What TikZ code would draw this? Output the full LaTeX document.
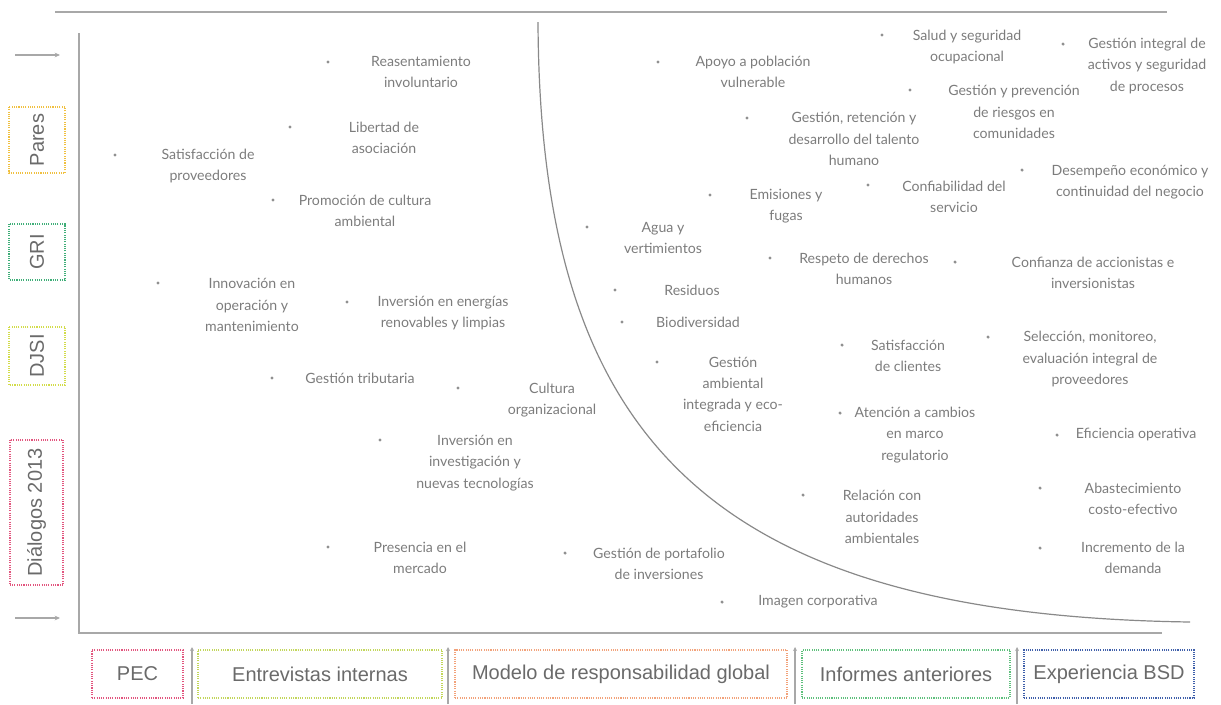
\documentclass[tikz,border=0pt]{standalone}
\usepackage{fontspec}
\setmainfont{Lato}
\newfontfamily\boxfont{Liberation Sans}
\usetikzlibrary{arrows.meta}
\definecolor{txt}{HTML}{7C7C7C}
\definecolor{boxtxt}{HTML}{6A6A6A}
\definecolor{axis}{HTML}{A8A8A8}
\definecolor{cpink}{HTML}{E2557E}
\definecolor{cyel}{HTML}{F0C040}
\definecolor{cteal}{HTML}{3FAE78}
\definecolor{clime}{HTML}{D2DC4A}
\definecolor{cyg}{HTML}{C2D65A}
\definecolor{corange}{HTML}{F2A27A}
\definecolor{cgreen}{HTML}{5EC07C}
\definecolor{cblue}{HTML}{3F5FAA}
\begin{document}
\begin{tikzpicture}[x=0.75pt,y=-0.75pt,
  dot/.style={circle,fill=txt!85,inner sep=0pt,minimum size=2.6pt},
  lbl/.style={align=center,font=\fontsize{10.6}{16}\selectfont,text=txt,inner sep=0pt},
  src/.style={draw=#1,line width=1.1pt,dash pattern=on 0.8pt off 0.9pt,
    font=\boxfont\fontsize{15}{18}\selectfont,text=boxtxt,inner sep=0pt},
  axisline/.style={draw=axis,line width=1.5pt},
  sepline/.style={draw=axis,line width=1.1pt,-{Stealth[length=3pt,width=3pt]}},
  inarrow/.style={draw=axis,line width=1.1pt,-{Stealth[length=4pt,width=3.5pt]}}]
\useasboundingbox (0,0) rectangle (1221,704);

% frame lines
\coordinate (top1) at (55,12);
\coordinate (top2) at (1167,12);
\coordinate (ax0) at (79,633);
\coordinate (axt) at (79,33);
\coordinate (axr) at (1162,633);
\draw[axisline] (top1) -- (top2);
\draw[axisline] (axt) -- (ax0) -- (axr);

% left arrows
\coordinate (la1) at (15,55);
\coordinate (la2) at (60,55);
\coordinate (lb1) at (15,618);
\coordinate (lb2) at (60,618);
\draw[inarrow] (la1) -- (la2);
\draw[inarrow] (lb1) -- (lb2);

% curve
\coordinate (c0) at (538,22);
\coordinate (c3) at (1190,622);
\draw[draw=txt!90,line width=0.9pt] (c0) .. controls (540,430) and (700,615) .. (c3);

% left source boxes
\node[src=cyel,rotate=90,minimum width=49.5pt,minimum height=42pt] (pares) at (37,140) {Pares};
\node[src=cteal,rotate=90,minimum width=42pt,minimum height=42pt] (gri) at (37,252) {GRI};
\node[src=clime,rotate=90,minimum width=43.5pt,minimum height=42pt] (djsi) at (37,356) {DJSI};
\node[src=cpink,rotate=90,minimum width=108.75pt,minimum height=40pt] (dial) at (36.5,512.5) {Diálogos 2013};

% bottom source boxes
\node[src=cpink,minimum width=68.25pt,minimum height=36pt] (pec) at (137.5,674) {PEC};
\node[src=cyg,minimum width=183pt,minimum height=36pt] (entre) at (320,674) {Entrevistas internas};
\node[src=corange,minimum width=249pt,minimum height=36pt] (modelo) at (621,674) {Modelo de responsabilidad global};
\node[src=cgreen,minimum width=156pt,minimum height=36pt] (inf) at (906,674) {Informes anteriores};
\node[src=cblue,minimum width=127.5pt,minimum height=36pt] (exp) at (1109,674) {Experiencia BSD};

% separators
\coordinate (s1a) at (192,704); \coordinate (s1b) at (192,647);
\coordinate (s2a) at (448,704); \coordinate (s2b) at (448,647);
\coordinate (s3a) at (795,704); \coordinate (s3b) at (795,647);
\coordinate (s4a) at (1017,704); \coordinate (s4b) at (1017,647);
\draw[sepline] (s1a) -- (s1b);
\draw[sepline] (s2a) -- (s2b);
\draw[sepline] (s3a) -- (s3b);
\draw[sepline] (s4a) -- (s4b);

% items (left region)
\node[dot] (b1) at (328,62) {};  \node[lbl] (t1) at (421,72) {Reasentamiento\\involuntario};
\node[dot] (b2) at (290,127) {}; \node[lbl] (t2) at (384,138) {Libertad de\\asociación};
\node[dot] (b3) at (115,155) {}; \node[lbl] (t3) at (208,166) {Satisfacción de\\proveedores};
\node[dot] (b4) at (273,200) {}; \node[lbl] (t4) at (365,211) {Promoción de cultura\\ambiental};
\node[dot] (b5) at (158,283) {}; \node[lbl] (t5) at (252,305) {Innovación en\\operación y\\mantenimiento};
\node[dot] (b6) at (347,302) {}; \node[lbl] (t6) at (443,313) {Inversión en energías\\renovables y limpias};
\node[dot] (b7) at (272,378) {}; \node[lbl] (t7) at (360,378) {Gestión tributaria};
\node[dot] (b8) at (458,388) {}; \node[lbl] (t8) at (552,400) {Cultura\\organizacional};
\node[dot] (b9) at (380,440) {}; \node[lbl] (t9) at (475,463) {Inversión en\\investigación y\\nuevas tecnologías};
\node[dot] (b10) at (328,547) {}; \node[lbl] (t10) at (420,558) {Presencia en el\\mercado};
\node[dot] (b11) at (565,553) {}; \node[lbl] (t11) at (659,564) {Gestión de portafolio\\de inversiones};
\node[dot] (b12) at (722,602) {}; \node[lbl] (t12) at (818,602) {Imagen corporativa};

% items (right region)
\node[dot] (b13) at (658,62) {}; \node[lbl] (t13) at (753,72) {Apoyo a población\\vulnerable};
\node[dot] (b14) at (882,35) {}; \node[lbl] (t14) at (967,47) {Salud y seguridad\\ocupacional};
\node[dot] (b15) at (1063,44) {}; \node[lbl] (t15) at (1147,66) {Gestión integral de\\activos y seguridad\\de procesos};
\node[dot] (b16) at (910,90) {}; \node[lbl] (t16) at (1014,112) {Gestión y prevención\\de riesgos en\\comunidades};
\node[dot] (b17) at (747,118) {}; \node[lbl] (t17) at (854,139) {Gestión, retención y\\desarrollo del talento\\humano};
\node[dot] (b18) at (710,195) {}; \node[lbl] (t18) at (786,206) {Emisiones y\\fugas};
\node[dot] (b19) at (868,185) {}; \node[lbl] (t19) at (954,197) {Confiabilidad del\\servicio};
\node[dot] (b20) at (1022,170) {}; \node[lbl] (t20) at (1130,182) {Desempeño económico y\\continuidad del negocio};
\node[dot] (b21) at (587,227) {}; \node[lbl] (t21) at (663,238) {Agua y\\vertimientos};
\node[dot] (b22) at (770,258) {}; \node[lbl] (t22) at (864,269) {Respeto de derechos\\humanos};
\node[dot] (b23) at (955,262) {}; \node[lbl] (t23) at (1093,273) {Confianza de accionistas e\\inversionistas};
\node[dot] (b24) at (615,290) {}; \node[lbl] (t24) at (692,290) {Residuos};
\node[dot] (b25) at (622,322) {}; \node[lbl] (t25) at (698,322) {Biodiversidad};
\node[dot] (b26) at (657,362) {}; \node[lbl] (t26) at (733,394) {Gestión\\ambiental\\integrada y eco-\\eficiencia};
\node[dot] (b27) at (842,345) {}; \node[lbl] (t27) at (908,356) {Satisfacción\\de clientes};
\node[dot] (b28) at (988,337) {}; \node[lbl] (t28) at (1090,359) {Selección, monitoreo,\\evaluación integral de\\proveedores};
\node[dot] (b29) at (840,413) {}; \node[lbl] (t29) at (915,435) {Atención a cambios\\en marco\\regulatorio};
\node[dot] (b30) at (1057,435) {}; \node[lbl] (t30) at (1136,435) {Eficiencia operativa};
\node[dot] (b31) at (803,495) {}; \node[lbl] (t31) at (882,517) {Relación con\\autoridades\\ambientales};
\node[dot] (b32) at (1040,488) {}; \node[lbl] (t32) at (1133,499) {Abastecimiento\\costo-efectivo};
\node[dot] (b33) at (1040,548) {}; \node[lbl] (t33) at (1133,558) {Incremento de la\\demanda};
\end{tikzpicture}
\end{document}
